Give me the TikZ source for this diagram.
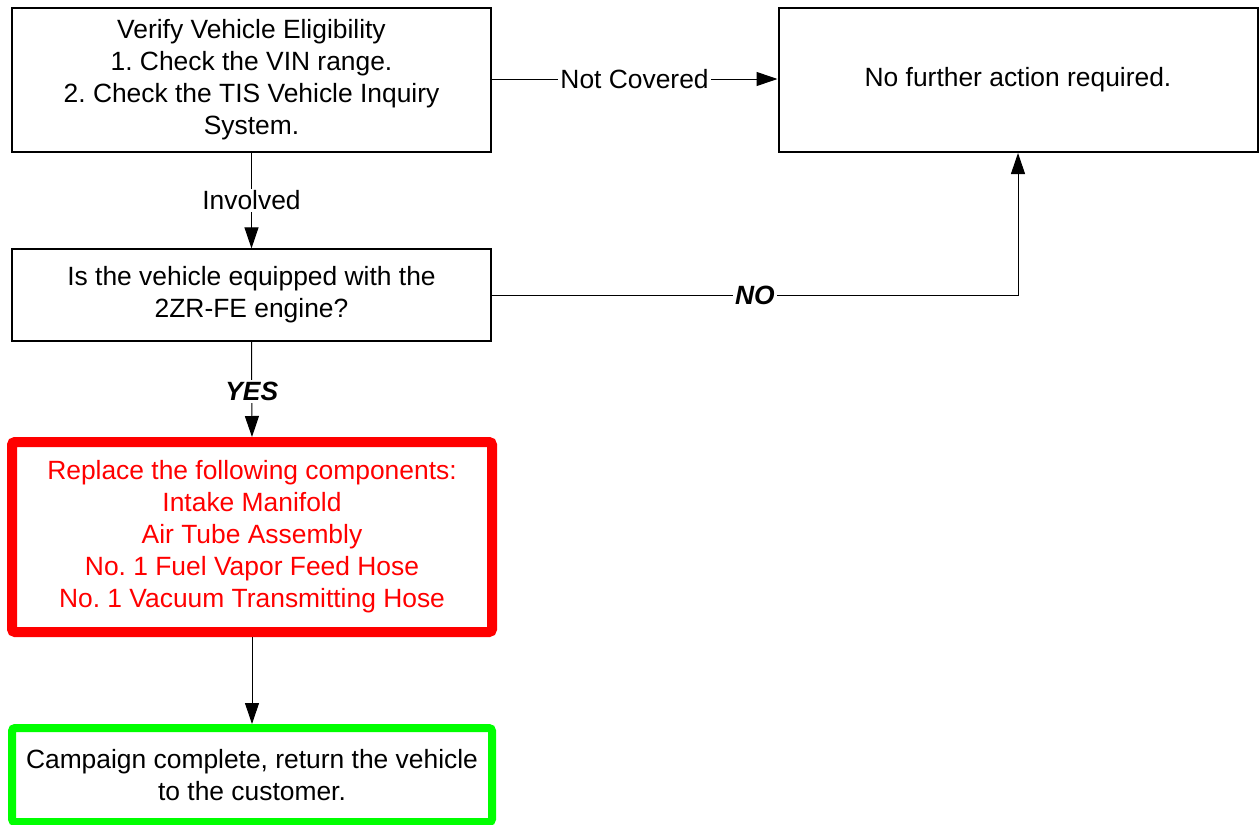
\documentclass[tikz,border=0pt]{standalone}
\usepackage{fontspec}
\setmainfont{Liberation Sans}
\usetikzlibrary{arrows.meta}
\frenchspacing
\begin{document}
\begin{tikzpicture}[x=0.5pt,y=-0.5pt,
  every node/.style={font=\fontsize{13.2pt}{16pt}\selectfont},
  box/.style={draw=black, line width=0.6pt, rectangle, align=center, inner sep=0pt, fill=white},
  thickbox/.style={box, line width=1pt},
  redbox/.style={box, draw=red, text=red, line width=5pt, rounded corners=1.5pt},
  greenbox/.style={box, draw=green, line width=4pt, rounded corners=1.5pt},
  conn/.style={draw=black, line width=0.5pt, -{Triangle[length=10.5pt,width=7pt]}},
  lbl/.style={fill=white, inner sep=1pt},
  blbl/.style={lbl, font=\fontsize{13.2pt}{16pt}\selectfont\bfseries\itshape}
]
\useasboundingbox (0,0) rectangle (1260,825);
\node[box, minimum width=479*0.5pt, minimum height=144*0.5pt] (verify) at (251.5,80)
  {Verify Vehicle Eligibility\\1. Check the VIN range.\\2. Check the TIS Vehicle Inquiry\\System.};
\node[thickbox, minimum width=479*0.5pt, minimum height=144*0.5pt] (noaction) at (1018,80)
  {No further action required.};
\node[box, minimum width=479*0.5pt, minimum height=92*0.5pt] (engine) at (251.5,295)
  {Is the vehicle equipped with the\\2ZR-FE engine?};
\node[redbox, minimum width=480*0.5pt, minimum height=190*0.5pt] (replace) at (252,537)
  {Replace the following components:\\Intake Manifold\\Air Tube Assembly\\No. 1 Fuel Vapor Feed Hose\\No. 1 Vacuum Transmitting Hose};
\node[greenbox, minimum width=480*0.5pt, minimum height=94*0.5pt] (done) at (252,775)
  {Campaign complete, return the vehicle\\to the customer.};
\draw[conn] (verify.east |- 0,79) -- node[lbl] {Not Covered} (noaction.west |- 0,79);
\draw[conn] (verify.south) -- node[lbl] {Involved} (engine.north);
\draw[conn] (engine.east) -| node[blbl, pos=0.25] {NO} (noaction.south);
\draw[conn] (engine.south) -- node[blbl, pos=0.52] {YES} (replace.north);
\draw[conn] (replace.south) -- (done.north);
\end{tikzpicture}
\end{document}
